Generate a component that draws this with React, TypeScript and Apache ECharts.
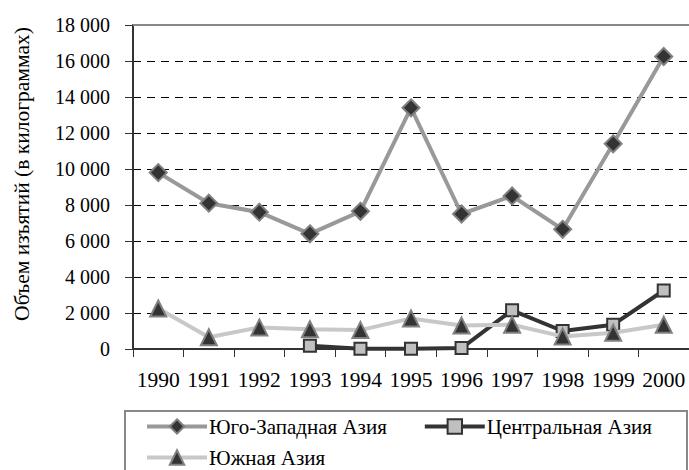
import React, { useEffect, useRef } from "react";
import * as echarts from "echarts";

const years = ["1990", "1991", "1992", "1993", "1994", "1995", "1996", "1997", "1998", "1999", "2000"];
const southwestAsia = [9800, 8100, 7600, 6400, 7650, 13400, 7500, 8500, 6650, 11400, 16250];
const centralAsia = [null, null, null, 180, 20, 10, 50, 2150, 1000, 1350, 3250];
const southAsia = [2250, 650, 1200, 1100, 1050, 1700, 1300, 1350, 700, 900, 1350];
const seriesNames = ["Юго-Западная Азия", "Центральная Азия", "Южная Азия"];
const yAxisTitle = "Объем изъятий (в килограммах)";

const FONT = "Liberation Serif";

function fmt(v: number) {
  if (v === 0) return "0";
  const s = String(v);
  return s.slice(0, s.length - 3) + " " + s.slice(s.length - 3);
}

export default function App() {
  const ref = useRef<HTMLDivElement>(null);
  useEffect(() => {
    if (!ref.current) return;
    const chart = echarts.init(ref.current, undefined, { renderer: "svg" });
    const legendCommon = {
      itemWidth: 60,
      itemHeight: 18,
      lineStyle: { width: 4 },
      textStyle: { fontSize: 21, fontFamily: FONT, color: "#000", padding: [0, 0, 0, -3] },
    };
    chart.setOption({
      animation: false,
      backgroundColor: "#fff",
      textStyle: { fontFamily: FONT, color: "#000", fontSize: 20 },
      grid: { left: 133, top: 25, width: 558, height: 324 },
      xAxis: {
        type: "category",
        data: years,
        boundaryGap: true,
        axisLine: { lineStyle: { color: "#333", width: 2 } },
        axisTick: { show: true, length: 8, lineStyle: { color: "#333", width: 1 } },
        axisLabel: { color: "#000", fontSize: 21.5, fontFamily: FONT, margin: 20, interval: 0 },
        splitLine: { show: false },
      },
      yAxis: {
        type: "value",
        min: 0,
        max: 18000,
        interval: 2000,
        name: yAxisTitle,
        nameLocation: "middle",
        nameRotate: 90,
        nameGap: 100,
        nameTextStyle: { color: "#000", fontSize: 21.5, fontFamily: FONT, padding: [0, 0, 0, 26] },
        axisLine: { show: true, lineStyle: { color: "#333", width: 2 } },
        axisTick: { show: true, length: 8, lineStyle: { color: "#333", width: 1 } },
        axisLabel: { color: "#000", fontSize: 20, fontFamily: FONT, margin: 23, formatter: fmt },
        splitLine: { show: true, lineStyle: { color: "#000", type: [8, 6], width: 1 } },
      },
      legend: [
        {
          ...legendCommon,
          data: [seriesNames[0], seriesNames[1]],
          left: 140,
          top: 411,
          itemGap: 36,
        },
        {
          ...legendCommon,
          data: [seriesNames[2]],
          left: 140,
          top: 442,
        },
      ],
      graphic: [
        {
          type: "line",
          z: 100,
          shape: { x1: 133, y1: 25, x2: 689, y2: 25 },
          style: { stroke: "#888", lineWidth: 2 },
        },
        {
          type: "rect",
          z: 0,
          shape: { x: 125, y: 411, width: 562, height: 90 },
          style: { fill: "none", stroke: "#888", lineWidth: 2 },
        },
      ],
      series: [
        {
          name: seriesNames[0],
          type: "line",
          data: southwestAsia,
          symbol: "diamond",
          symbolSize: 17,
          lineStyle: { color: "#999", width: 4 },
          itemStyle: { color: "#333", borderColor: "#808080", borderWidth: 2 },
          z: 2,
        },
        {
          name: seriesNames[1],
          type: "line",
          data: centralAsia,
          symbol: "rect",
          symbolSize: 12,
          connectNulls: false,
          lineStyle: { color: "#333", width: 4 },
          itemStyle: { color: "#c0c0c0", borderColor: "#333", borderWidth: 2 },
          z: 3,
        },
        {
          name: seriesNames[2],
          type: "line",
          data: southAsia,
          symbol: "triangle",
          symbolSize: 16,
          lineStyle: { color: "#c8c8c8", width: 4 },
          itemStyle: { color: "#333", borderColor: "#808080", borderWidth: 2 },
          z: 4,
        },
      ],
    });
    return () => chart.dispose();
  }, []);
  return <div ref={ref} style={{ width: 689, height: 470, position: "absolute", left: 0, top: 0 }} />;
}
